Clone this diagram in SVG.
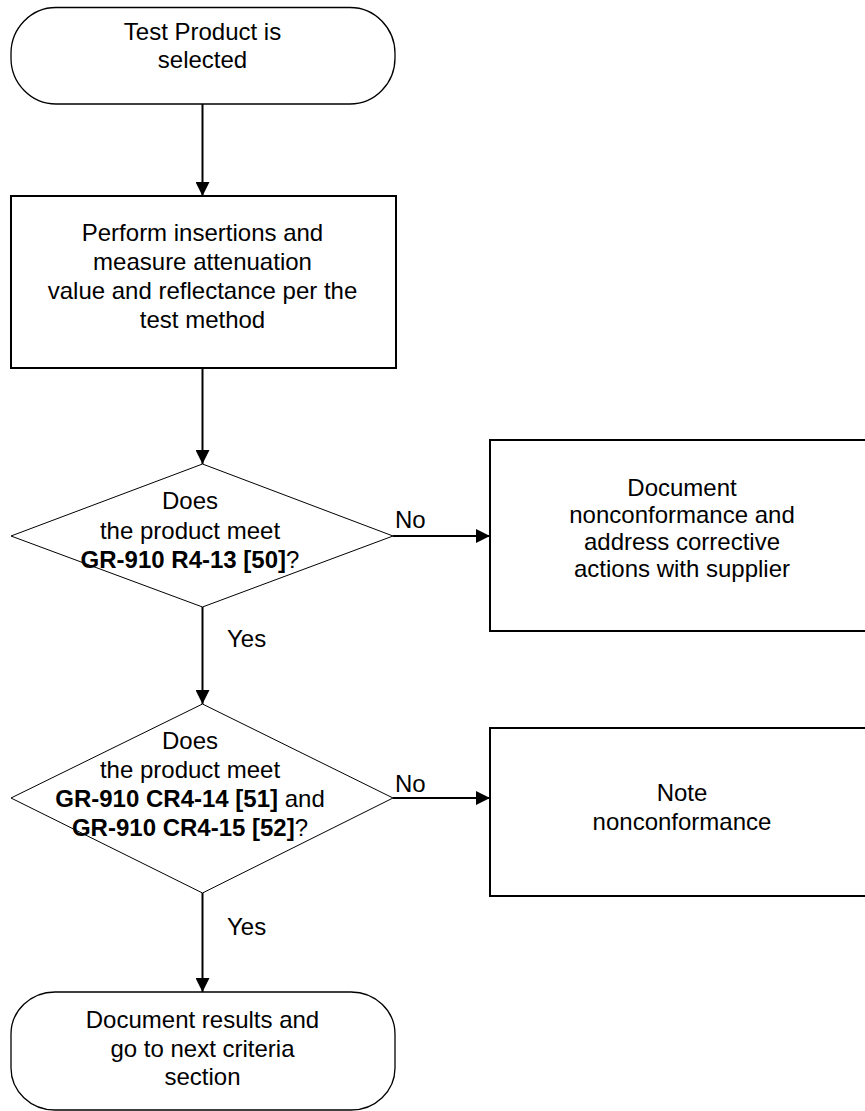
<svg xmlns="http://www.w3.org/2000/svg" width="865" height="1111" viewBox="0 0 865 1111">
  <style>
    text { font-family: "Liberation Sans", Arial, sans-serif; font-size: 24px; fill: #000; }
    .c { text-anchor: middle; }
    .b { font-weight: bold; }
    .term { fill: #fff; stroke: #000; stroke-width: 1.3; }
    .box { fill: #fff; stroke: #000; stroke-width: 2; }
    .dia { fill: #fff; stroke: #000; stroke-width: 1; }
    .conn { stroke: #000; stroke-width: 2; fill: none; }
  </style>
  <defs>
    <marker id="arrow" markerUnits="userSpaceOnUse" markerWidth="14" markerHeight="14" refX="14" refY="7" orient="auto">
      <path d="M0,0 L14,7 L0,14 Z" fill="#000"/>
    </marker>
  </defs>
  <rect width="865" height="1111" fill="#fff"/>

  <g id="connectors">
    <line class="conn" x1="202.5" y1="104" x2="202.5" y2="196" marker-end="url(#arrow)"/>
    <line class="conn" x1="202.5" y1="368" x2="202.5" y2="464" marker-end="url(#arrow)"/>
    <line class="conn" x1="393" y1="536" x2="490" y2="536" marker-end="url(#arrow)"/>
    <line class="conn" x1="202.5" y1="607" x2="202.5" y2="704" marker-end="url(#arrow)"/>
    <line class="conn" x1="393" y1="798" x2="490" y2="798" marker-end="url(#arrow)"/>
    <line class="conn" x1="202.5" y1="893" x2="202.5" y2="992" marker-end="url(#arrow)"/>
    <text x="395" y="528">No</text>
    <text x="395" y="792">No</text>
    <text x="227" y="647">Yes</text>
    <text x="227" y="935">Yes</text>
  </g>

  <g id="start">
    <rect class="term" x="11" y="7.5" width="384" height="96.5" rx="45" ry="46"/>
    <text class="c" x="202.5" y="40">Test Product is</text>
    <text class="c" x="202.5" y="68">selected</text>
  </g>

  <g id="measure">
    <rect class="box" x="11" y="196" width="385" height="172"/>
    <text class="c" x="202.5" y="241">Perform insertions and</text>
    <text class="c" x="202.5" y="270">measure attenuation</text>
    <text class="c" x="202.5" y="299">value and reflectance per the</text>
    <text class="c" x="202.5" y="328">test method</text>
  </g>

  <g id="decision1">
    <polygon class="dia" points="202.5,464 393,536 202.5,607 11,536"/>
    <text class="c" x="190" y="509">Does</text>
    <text class="c" x="190" y="539">the product meet</text>
    <text class="c" x="190" y="568"><tspan class="b">GR-910 R4-13 [50]</tspan>?</text>
  </g>

  <g id="document-nonconformance">
    <rect class="box" x="490" y="440" width="385" height="191"/>
    <text class="c" x="682" y="496">Document</text>
    <text class="c" x="682" y="523">nonconformance and</text>
    <text class="c" x="682" y="550">address corrective</text>
    <text class="c" x="682" y="577">actions with supplier</text>
  </g>

  <g id="decision2">
    <polygon class="dia" points="202.5,704 393,798 202.5,893 11,798"/>
    <text class="c" x="190" y="749">Does</text>
    <text class="c" x="190" y="778">the product meet</text>
    <text class="c" x="190" y="807"><tspan class="b">GR-910 CR4-14 [51]</tspan> and</text>
    <text class="c" x="190" y="836"><tspan class="b">GR-910 CR4-15 [52]</tspan>?</text>
  </g>

  <g id="note-nonconformance">
    <rect class="box" x="490" y="728" width="385" height="168"/>
    <text class="c" x="682" y="801">Note</text>
    <text class="c" x="682" y="830">nonconformance</text>
  </g>

  <g id="end">
    <rect class="term" x="11" y="992" width="384" height="118" rx="44" ry="42"/>
    <text class="c" x="202.5" y="1028">Document results and</text>
    <text class="c" x="202.5" y="1057">go to next criteria</text>
    <text class="c" x="202.5" y="1085">section</text>
  </g>
</svg>
